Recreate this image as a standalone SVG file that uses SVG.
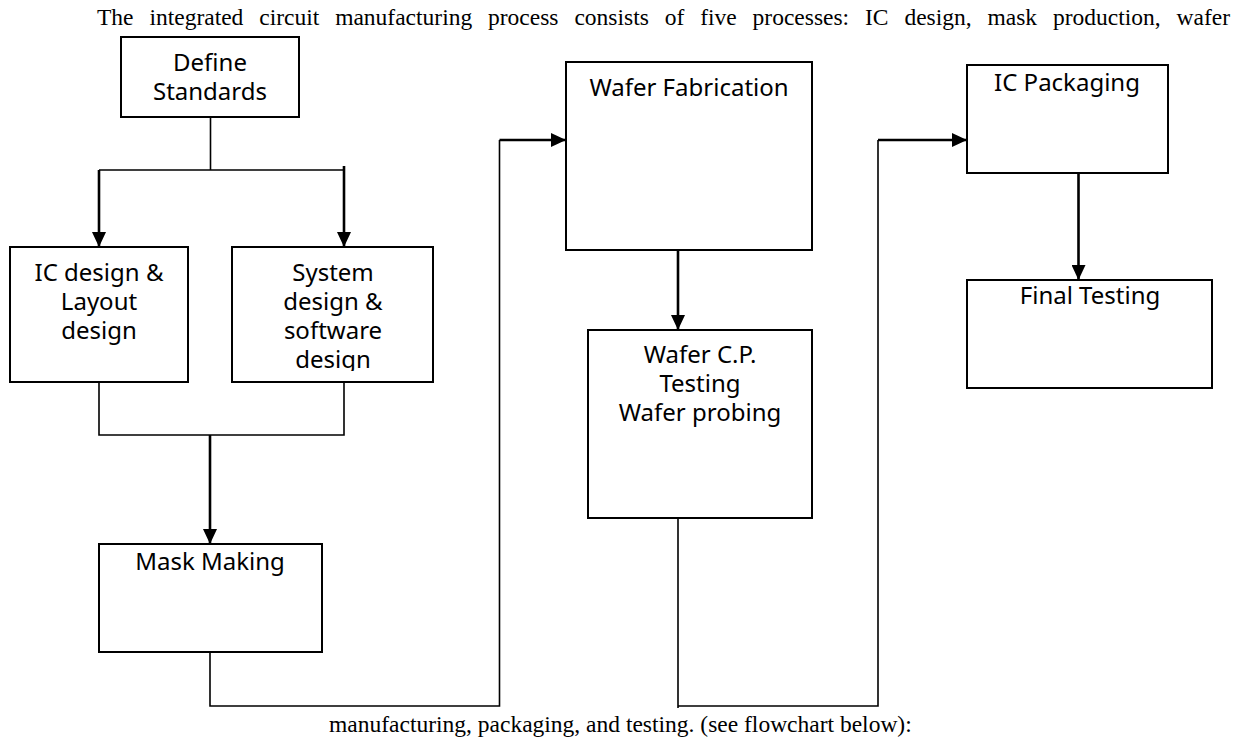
<svg xmlns="http://www.w3.org/2000/svg" width="1243" height="740" viewBox="0 0 1243 740">
<style>
.box{fill:#fff;stroke:#000;stroke-width:2}
.lbl{font-family:"Noto Sans","Open Sans",sans-serif;font-size:24px;fill:#000;text-anchor:middle}
.para{font-family:"Liberation Serif","Times New Roman",serif;font-size:23.5px;fill:#000}
.ln{fill:none;stroke:#000;stroke-width:1.6}
.ar{fill:none;stroke:#000;stroke-width:2.6;marker-end:url(#arr)}
</style>
<defs>
<marker id="arr" markerWidth="15" markerHeight="14" refX="15" refY="7" orient="auto" markerUnits="userSpaceOnUse">
<path d="M0,0 L15,7 L0,14 Z" fill="#000"/>
</marker>
<clipPath id="clipSys"><rect x="232" y="247" width="201" height="124"/></clipPath>
</defs>
<rect width="1243" height="740" fill="#fff"/>
<text class="para" x="97" y="25" word-spacing="10">The integrated circuit manufacturing process consists of five processes: IC design, mask production, wafer</text>
<text class="para" x="329" y="732">manufacturing, packaging, and testing. (see flowchart below):</text>
<g id="connectors">
<path class="ln" d="M210.5,117 V170 M99,170 H344"/>
<path class="ar" d="M99,170 V247"/>
<path class="ar" d="M344,166 V247"/>
<path class="ln" d="M99,382 V435 H344 V382"/>
<path class="ar" d="M210,435 V544"/>
<path class="ln" d="M210,652 V706 H499.5 V140"/>
<path class="ar" d="M499.5,140 H566"/>
<path class="ar" d="M678,250 V330"/>
<path class="ln" d="M678,518 V708 M678,706 H878 V140"/>
<path class="ar" d="M878,140 H967"/>
<path class="ar" d="M1078.5,173 V280"/>
</g>
<g id="define">
<rect class="box" x="121" y="37" width="178" height="80"/>
<text class="lbl" x="210" y="71">Define</text>
<text class="lbl" x="210" y="100">Standards</text>
</g>
<g id="icdesign">
<rect class="box" x="10" y="247" width="178" height="135"/>
<text class="lbl" x="99" y="281">IC design &amp;</text>
<text class="lbl" x="99" y="310">Layout</text>
<text class="lbl" x="99" y="339">design</text>
</g>
<g id="sysdesign">
<rect class="box" x="232" y="247" width="201" height="135"/>
<g clip-path="url(#clipSys)">
<text class="lbl" x="333" y="281">System</text>
<text class="lbl" x="333" y="310">design &amp;</text>
<text class="lbl" x="333" y="339">software</text>
<text class="lbl" x="333" y="368">design</text>
</g>
</g>
<g id="mask">
<rect class="box" x="99" y="544" width="223" height="108"/>
<text class="lbl" x="210" y="570">Mask Making</text>
</g>
<g id="waferfab">
<rect class="box" x="566" y="62" width="246" height="188"/>
<text class="lbl" x="689" y="96">Wafer Fabrication</text>
</g>
<g id="wafercp">
<rect class="box" x="588" y="330" width="224" height="188"/>
<text class="lbl" x="700" y="363">Wafer C.P.</text>
<text class="lbl" x="700" y="392">Testing</text>
<text class="lbl" x="700" y="421">Wafer probing</text>
</g>
<g id="packaging">
<rect class="box" x="967" y="65" width="201" height="108"/>
<text class="lbl" x="1067" y="91">IC Packaging</text>
</g>
<g id="final">
<rect class="box" x="967" y="280" width="245" height="108"/>
<text class="lbl" x="1090" y="304">Final Testing</text>
</g>
</svg>
